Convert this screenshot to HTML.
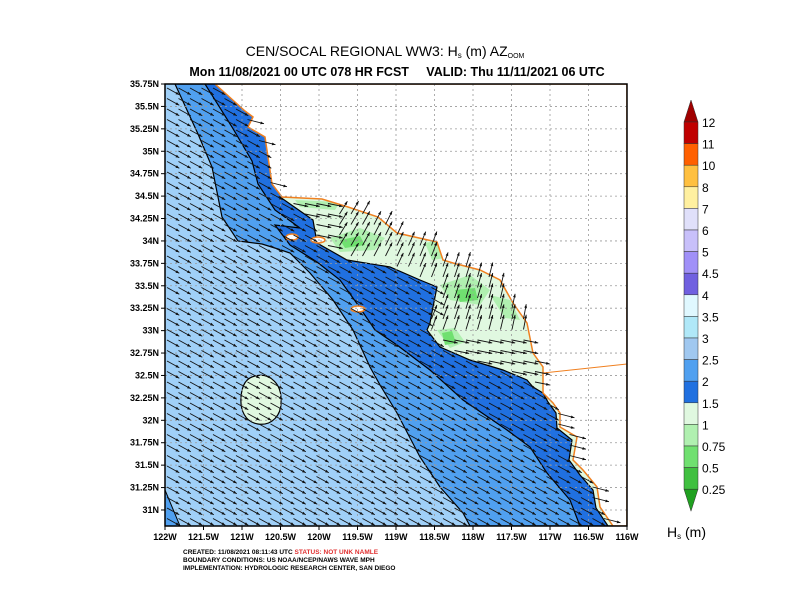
<!DOCTYPE html>
<html><head><meta charset="utf-8"><style>
body{margin:0;background:#fff;}
svg{display:block;font-family:"Liberation Sans",sans-serif;}
</style></head><body>
<svg id="s" width="792" height="612" viewBox="0 0 792 612" xmlns="http://www.w3.org/2000/svg">
<defs><clipPath id="pc"><rect x="165" y="84" width="462" height="442"/></clipPath></defs>
<text x="385" y="56" font-size="14" text-anchor="middle" fill="#000">CEN/SOCAL REGIONAL WW3: H<tspan font-size="8" dy="2">s</tspan><tspan dy="-2"> (m) AZ</tspan><tspan font-size="7" dy="2">OOM</tspan></text>
<text x="397" y="76" font-size="12.5" font-weight="bold" text-anchor="middle" fill="#000">Mon 11/08/2021 00 UTC 078 HR FCST&#160;&#160;&#160;&#160; VALID: Thu 11/11/2021 06 UTC</text>
<g clip-path="url(#pc)" id="map">
<rect x="165" y="84" width="462" height="442" fill="#a0d0f8"/>
<polygon fill="#50a0f0" stroke="#000" stroke-width="1.2" points="175,84 627,84 627,526 470,526 463,513 440,487 420,457 397,413 380,385 370,367 353,330 333,300 310,273 290,253 278,249 262,244 238,241 222,217 212,167 198,134"/>
<polygon fill="#2070e0" stroke="#000" stroke-width="1.2" points="205,84 627,84 627,526 580,526 570,500 547,473 530,447 507,430 463,400 430,370 397,345 375,330 358,305 340,280 317,262 290,245 275,225 300,228 275,210 258,184 252,161 232,127"/>
<polygon fill="#e0f8e0" stroke="#000" stroke-width="1.2" points="280,197 627,196 627,526 608,526 596,508 593,490 580,475 569,460 572,440 557,428 556,413 548,402 543,393 533,387 527,380 503,370 470,360 440,347 427,330 430,323 433,307 437,287 420,280 390,267 347,260 317,243 313,220"/>
<polygon fill="#b0f0b0" points="295,200 340,202 335,210 300,207"/>
<polygon fill="#b0f0b0" points="330,238 360,228 385,238 375,250 340,252"/>
<polygon fill="#70e070" points="340,240 360,236 365,245 345,248"/>
<polygon fill="#b0f0b0" points="425,243 440,240 445,258 432,260"/>
<polygon fill="#b0f0b0" points="440,285 470,275 490,290 480,305 450,300"/>
<polygon fill="#70e070" points="455,290 475,288 478,300 460,302"/>
<polygon fill="#b0f0b0" points="437,330 455,328 465,342 450,348"/>
<polygon fill="#70e070" points="442,333 452,331 456,343 445,345"/>
<polygon fill="#b0f0b0" points="490,295 510,300 520,320 505,318"/>
<polygon fill="#50a0f0" stroke="#000" stroke-width="1" points="165,490 180,526 165,526"/>
<path d="M255,376 C270,372 282,385 281,400 C282,415 272,426 258,424 C245,422 240,410 241,397 C242,385 246,378 255,376Z" fill="#e0f8e0" stroke="#000" stroke-width="1.2"/>
<polygon id="land" fill="#fff" stroke="#f08020" stroke-width="1.5" points="215,84 245,111 253,117 248,127 265,137 268,157 272,184 282,197 322,199 348,207 378,217 397,233 437,242 443,260 453,263 480,270 500,280 513,303 527,323 533,353 543,367 543,393 553,403 560,413 560,427 577,437 573,460 583,470 597,487 600,507 613,526 627,526 627,84"/>
<line x1="543" y1="373" x2="627" y2="364" stroke="#f08020" stroke-width="1"/>
<ellipse cx="358" cy="309" rx="7" ry="3" fill="#fff" stroke="#f08020" stroke-width="1.5"/>
<ellipse cx="292" cy="237" rx="6" ry="3" fill="#fff" stroke="#f08020" stroke-width="1.5"/>
<ellipse cx="318" cy="240" rx="7" ry="3" fill="#fff" stroke="#f08020" stroke-width="1.5"/>
<g id="grid" stroke="#999" stroke-width="0.8" stroke-dasharray="2,3"></g>
<g id="arr" stroke="#111" stroke-width="0.9" fill="#111"></g>
</g>
<rect x="165" y="84" width="462" height="442" fill="none" stroke="#000" stroke-width="1.5"/>
<g id="ticks" font-size="9" font-weight="bold" fill="#000"></g>
<g id="leg" font-size="12" fill="#000"></g>
<text x="667" y="537" font-size="14" fill="#000">H<tspan font-size="8" dy="2">s</tspan><tspan dy="-2"> (m)</tspan></text>
<g font-size="6.5" font-weight="bold" fill="#000">
<text x="183" y="554">CREATED: 11/08/2021 08:11:43 UTC <tspan fill="#e03030">STATUS: NOT UNK NAMLE</tspan></text>
<text x="183" y="562">BOUNDARY CONDITIONS: US NOAA/NCEP/NAWS WAVE MPH</text>
<text x="183" y="570">IMPLEMENTATION: HYDROLOGIC RESEARCH CENTER, SAN DIEGO</text>
</g>
</svg>
<script>
var NS="http://www.w3.org/2000/svg";
function el(p,t,a,txt){var e=document.createElementNS(NS,t);for(var k in a)e.setAttribute(k,a[k]);if(txt!==undefined)e.textContent=txt;p.appendChild(e);return e;}
var X0=165,PX=77,Y0=84,PY=22.42;
var grid=document.getElementById('grid'),ticks=document.getElementById('ticks');
for(var i=0;i<=12;i++){var x=X0+i*PX/2;if(i>0&&i<12)el(grid,'line',{x1:x,y1:84,x2:x,y2:526});
 var lon=122-i*0.5;var lab=(lon%1==0?lon.toFixed(0):lon.toFixed(1))+'W';
 el(ticks,'text',{x:x,y:540,'text-anchor':'middle'},lab);el(ticks,'line',{x1:x,y1:526,x2:x,y2:530,stroke:'#000'});}
for(var j=0;j<=19;j++){var y=Y0+j*PY;if(j>0)el(grid,'line',{x1:165,y1:y,x2:627,y2:y});
 var lat=35.75-j*0.25;var s=lat.toFixed(2).replace(/0$/,'').replace(/\.0$/,'')+'N';
 el(ticks,'text',{x:159,y:y+3,'text-anchor':'end'},s);el(ticks,'line',{x1:161,y1:y,x2:165,y2:y,stroke:'#000'});}
var land=[[215,84],[245,111],[253,117],[248,127],[265,137],[268,157],[272,184],[282,197],[322,199],[348,207],[378,217],[397,233],[437,242],[443,260],[453,263],[480,270],[500,280],[513,303],[527,323],[533,353],[543,367],[543,393],[553,403],[560,413],[560,427],[577,437],[573,460],[583,470],[597,487],[600,507],[613,526],[627,526],[627,84]];
var pale=[[280,197],[627,196],[627,395],[543,393],[533,387],[527,380],[503,370],[470,360],[440,347],[427,330],[430,323],[433,307],[437,287],[420,280],[390,267],[347,260],[317,243],[313,220]];
function inP(p,x,y){var c=false;for(var i=0,j=p.length-1;i<p.length;j=i++){var xi=p[i][0],yi=p[i][1],xj=p[j][0],yj=p[j][1];if(((yi>y)!=(yj>y))&&(x<(xj-xi)*(y-yi)/(yj-yi)+xi))c=!c;}return c;}
var arr=document.getElementById('arr');
for(var y=88;y<526;y+=10.5){for(var x=167;x<627;x+=11.5){
 if(inP(land,x,y))continue;
 var ang=0.5,L=14;
 if(inP(pale,x,y)){ang=(x>330&&y<330)?-1.0-(x-330)/500:0.2;L=15;}
 else if(inP(land,x+8,y+3)){ang=0.25;L=17;}
 var x2=x+L*Math.cos(ang),y2=y+L*Math.sin(ang);
 el(arr,'line',{x1:x,y1:y,x2:x2,y2:y2});
 var hx=Math.cos(ang),hy=Math.sin(ang);
 el(arr,'polygon',{points:x2+','+y2+' '+(x2-3.5*hx-1.4*hy)+','+(y2-3.5*hy+1.4*hx)+' '+(x2-3.5*hx+1.4*hy)+','+(y2-3.5*hy-1.4*hx),stroke:'none'});
}}
var leg=document.getElementById('leg');
var cols=['#c00000','#ff6000','#ffc040','#fff0a0','#e0e0fa','#c8c0fa','#a090f8','#7060e0','#e0f8ff','#b0e8f8','#a0c8f0','#50a0f0','#2070e0','#e0f8e0','#b0f0b0','#70e070','#40c040'];
var labs=['12','11','10','8','7','6','5','4.5','4','3.5','3','2.5','2','1.5','1','0.75','0.5','0.25'];
var bx=684,bw=14,by=122,bh=21.6;
el(leg,'polygon',{points:bx+','+by+' '+(bx+bw)+','+by+' '+(bx+bw/2)+',100',fill:'#a00000',stroke:'#333','stroke-width':0.5});
for(var k=0;k<17;k++)el(leg,'rect',{x:bx,y:by+k*bh,width:bw,height:bh,fill:cols[k],stroke:'#333','stroke-width':0.5});
var bb=by+17*bh;
el(leg,'polygon',{points:bx+','+bb+' '+(bx+bw)+','+bb+' '+(bx+bw/2)+','+(bb+22),fill:'#20a020',stroke:'#333','stroke-width':0.5});
for(var k=0;k<18;k++)el(leg,'text',{x:702,y:by+k*bh+5},labs[k]);
</script>
</body></html>
